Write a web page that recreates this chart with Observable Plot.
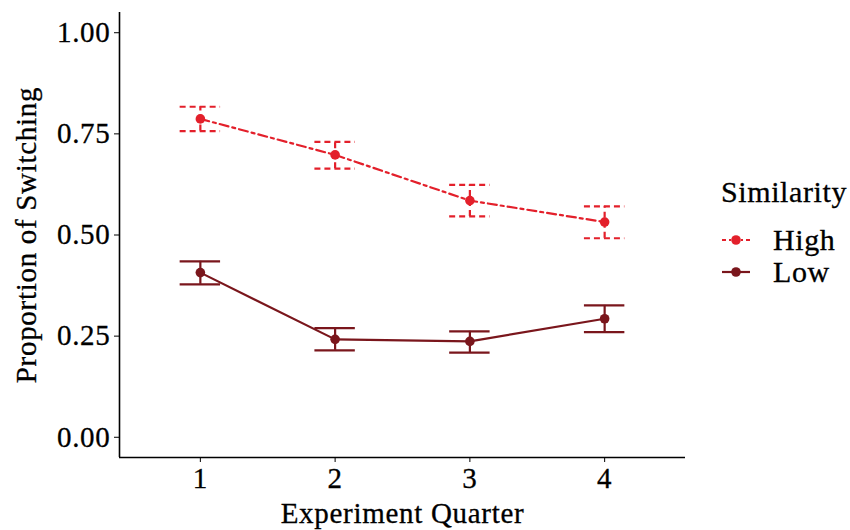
<!DOCTYPE html>
<html>
<head>
<meta charset="utf-8">
<script src="https://cdn.jsdelivr.net/npm/d3@7"></script>
<script src="https://cdn.jsdelivr.net/npm/@observablehq/plot@0.6"></script>
<style>
  html, body { margin: 0; padding: 0; background: #fff; }
  #wrap { position: relative; width: 850px; height: 530px; font-family: "Liberation Serif", serif; }
  #wrap svg text { stroke: #000; stroke-width: 0.3px; }
  #legend { position: absolute; left: 721px; top: 172px; font-size: 30px; letter-spacing: 0.6px; color: #000; font-family: "Liberation Serif", serif; -webkit-text-stroke: 0.3px #000; }
  #legend .title { height: 40px; line-height: 40px; margin-bottom: 12px; }
  #legend .row { height: 32px; display: flex; align-items: center; }
  #legend svg { margin-right: 22px; }
</style>
</head>
<body>
<div id="wrap"></div>
<script>
// ---- data ----
const quarters = [1, 2, 3, 4];
const quarterTicks = [1, 2, 3, 4];
const yTicks = [0, 0.25, 0.5, 0.75, 1];
const seriesNames = ["High", "Low"];
const seriesColors = ["#e3202b", "#7a161c"];
const highMean = [0.787, 0.698, 0.585, 0.532];
const highLo   = [0.757, 0.664, 0.546, 0.492];
const highHi   = [0.817, 0.730, 0.624, 0.571];
const lowMean  = [0.407, 0.242, 0.237, 0.293];
const lowLo    = [0.378, 0.215, 0.209, 0.260];
const lowHi    = [0.435, 0.270, 0.262, 0.326];

const rows = [];
quarters.forEach((q, i) => {
  rows.push({q, sim: "High", m: highMean[i], lo: highLo[i], hi: highHi[i]});
  rows.push({q, sim: "Low", m: lowMean[i], lo: lowLo[i], hi: lowHi[i]});
});
const high = rows.filter(d => d.sim === "High");
const low = rows.filter(d => d.sim === "Low");
const [cHigh, cLow] = seriesColors;
const capHalf = 0.15;
const dashLine = "9,4,3,4";
const dashBar = "6,4";

const chart = Plot.plot({
  width: 850,
  height: 530,
  marginLeft: 119,
  marginRight: 165,
  marginTop: 12,
  marginBottom: 73,
  style: {fontFamily: "'Liberation Serif', serif", fontSize: "29px", letterSpacing: "0.7px", color: "#000", background: "#fff"},
  x: {domain: [0.4, 4.6], ticks: quarterTicks, tickFormat: d3.format("d"), label: "Experiment Quarter", labelArrow: "none", labelAnchor: "center", labelOffset: 65, tickSize: 5, tickPadding: 5},
  y: {domain: [-0.05, 1.05], ticks: yTicks, tickFormat: d3.format(".2f"), label: "Proportion of Switching", labelArrow: "none", labelAnchor: "center", labelOffset: 104, tickSize: 5, tickPadding: 4},
  marks: [
    // error bars: High (dashed)
    Plot.ruleX(high, {x: "q", y1: "lo", y2: "hi", stroke: cHigh, strokeWidth: 2.2, strokeDasharray: dashBar}),
    Plot.ruleY(high, {y: "hi", x1: d => d.q - capHalf, x2: d => d.q + capHalf, stroke: cHigh, strokeWidth: 2.2, strokeDasharray: dashBar}),
    Plot.ruleY(high, {y: "lo", x1: d => d.q - capHalf, x2: d => d.q + capHalf, stroke: cHigh, strokeWidth: 2.2, strokeDasharray: dashBar}),
    // error bars: Low (solid)
    Plot.ruleX(low, {x: "q", y1: "lo", y2: "hi", stroke: cLow, strokeWidth: 2.2}),
    Plot.ruleY(low, {y: "hi", x1: d => d.q - capHalf, x2: d => d.q + capHalf, stroke: cLow, strokeWidth: 2.2}),
    Plot.ruleY(low, {y: "lo", x1: d => d.q - capHalf, x2: d => d.q + capHalf, stroke: cLow, strokeWidth: 2.2}),
    // lines
    Plot.line(high, {x: "q", y: "m", stroke: cHigh, strokeWidth: 2.2, strokeDasharray: dashLine}),
    Plot.line(low, {x: "q", y: "m", stroke: cLow, strokeWidth: 2.2}),
    // points
    Plot.dot(high, {x: "q", y: "m", r: 4.8, fill: cHigh, stroke: "none"}),
    Plot.dot(low, {x: "q", y: "m", r: 4.8, fill: cLow, stroke: "none"}),
    // axis lines
    Plot.ruleX([0.4], {stroke: "#000", strokeWidth: 1.6}),
    Plot.ruleY([-0.05], {stroke: "#000", strokeWidth: 1.6})
  ]
});
document.getElementById("wrap").appendChild(chart);

// ---- legend ----
const legend = d3.select("#wrap").append("div").attr("id", "legend");
legend.append("div").attr("class", "title").text("Similarity");
seriesNames.forEach((name, i) => {
  const row = legend.append("div").attr("class", "row");
  const svg = row.append("svg").attr("width", 30).attr("height", 20);
  svg.append("line").attr("x1", 1).attr("x2", 29).attr("y1", 10).attr("y2", 10)
    .attr("stroke", seriesColors[i]).attr("stroke-width", 2.2)
    .attr("stroke-dasharray", i === 0 ? "4,3,2,3" : null);
  svg.append("circle").attr("cx", 15).attr("cy", 10).attr("r", 4.8).attr("fill", seriesColors[i]);
  row.append("span").text(name);
});
</script>
</body>
</html>
